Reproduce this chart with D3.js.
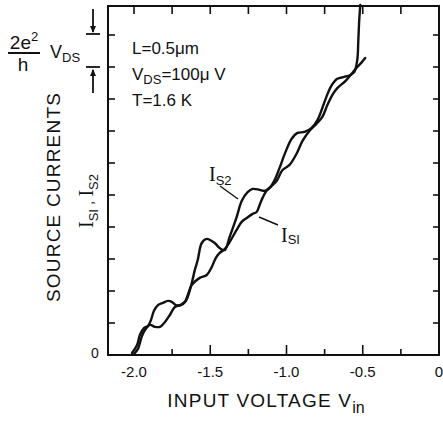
<!DOCTYPE html>
<html><head><meta charset="utf-8">
<script src="https://cdn.jsdelivr.net/npm/d3@7"></script>
<style>body{margin:0;background:#fff}</style>
</head><body><svg id="c" width="443" height="422"></svg>
<script>
// ---- data (x: input voltage V_in, y: source current in units of 2e^2/h V_DS)
const is2X = [-2.013,-1.980,-1.961,-1.935,-1.908,-1.889,-1.869,-1.843,-1.810,-1.778,-1.752,-1.725,-1.693,-1.660,-1.641,-1.621,-1.601,-1.582,-1.556,-1.523,-1.471,-1.438,-1.405,-1.373,-1.327,-1.294,-1.255,-1.222,-1.176,-1.144,-1.111,-1.078,-1.046,-1.007,-0.967,-0.928,-0.882,-0.837,-0.797,-0.765,-0.739,-0.706,-0.667,-0.621,-0.582,-0.556,-0.536,-0.529,-0.523,-0.516];
const is2Y = [0.06,0.31,0.63,0.84,0.91,1.09,1.38,1.56,1.63,1.69,1.66,1.56,1.56,1.69,1.91,2.25,2.66,2.97,3.50,3.63,3.50,3.34,3.28,3.69,4.31,4.81,5.09,5.19,5.16,5.13,5.22,5.47,5.84,6.34,6.75,6.94,6.97,7.09,7.34,7.72,8.06,8.41,8.63,8.69,8.75,8.84,9.22,9.84,10.47,10.94];
const is1X = [-2.000,-1.974,-1.961,-1.948,-1.928,-1.895,-1.863,-1.830,-1.797,-1.765,-1.732,-1.699,-1.667,-1.647,-1.621,-1.569,-1.523,-1.490,-1.464,-1.438,-1.405,-1.373,-1.327,-1.294,-1.261,-1.222,-1.196,-1.176,-1.157,-1.131,-1.098,-1.065,-1.026,-0.980,-0.935,-0.895,-0.850,-0.804,-0.765,-0.732,-0.699,-0.667,-0.614,-0.575,-0.542,-0.510,-0.484];
const is1Y = [0.03,0.19,0.38,0.59,0.78,0.94,0.88,0.88,1.03,1.25,1.50,1.56,1.66,1.88,2.19,2.41,2.50,2.75,3.03,3.19,3.31,3.53,3.91,4.16,4.28,4.41,4.47,4.69,4.91,5.13,5.28,5.44,5.78,5.94,6.28,6.69,7.00,7.22,7.44,7.81,8.13,8.34,8.56,8.78,8.97,9.13,9.28];
const xMinorTicks = [-2.0,-1.75,-1.5,-1.25,-1.0,-0.75,-0.5,-0.25];
const xLabelValues = [-2.0,-1.5,-1.0,-0.5,0];
const xLabelText = ["-2.0","-1.5","-1.0","-0.5","0"];
const yTicks = [1,2,3,4,5,6,7,8,9,10];
const annotations = ["L=0.5\u03BCm","V_DS=100\u03BC V","T=1.6 K"];

// ---- layout
const svg = d3.select("#c");
const L = 108, R = 439, T = 6, B = 355;
const x = d3.scaleLinear().domain([-2 - (134 - L) / 152.5, 0]).range([L, R]);
const y = d3.scaleLinear().domain([0, (B - T) / 32]).range([B, T]);
const font = "'Liberation Sans', Arial, sans-serif";
const serif = "'Liberation Serif', 'Times New Roman', serif";

// frame
svg.append("rect").attr("x", L).attr("y", T).attr("width", R - L).attr("height", B - T)
  .attr("fill", "none").attr("stroke", "#111").attr("stroke-width", 2);

// ticks
const tk = svg.append("g").attr("stroke", "#111").attr("stroke-width", 1.6);
xMinorTicks.forEach(v => {
  const major = Math.abs(v * 2 - Math.round(v * 2)) < 1e-6;
  const len = major ? 10 : 6;
  if (v > -1.99) tk.append("line").attr("x1", x(v)).attr("x2", x(v)).attr("y1", B).attr("y2", B - len);
  tk.append("line").attr("x1", x(v)).attr("x2", x(v)).attr("y1", T).attr("y2", T + 8);
});
yTicks.forEach(v => {
  tk.append("line").attr("x1", L).attr("x2", L + 7).attr("y1", y(v)).attr("y2", y(v));
  tk.append("line").attr("x1", R).attr("x2", R - 6).attr("y1", y(v)).attr("y2", y(v));
});

// x tick labels
svg.append("g").selectAll("text").data(xLabelValues).join("text")
  .attr("x", d => x(d)).attr("y", 377).attr("text-anchor", "middle")
  .attr("font-family", font).attr("font-size", 15).attr("fill", "#111")
  .text((d, i) => xLabelText[i]);
svg.append("text").attr("x", 95).attr("y", y(0) + 3).attr("text-anchor", "middle")
  .attr("font-family", font).attr("font-size", 14).attr("fill", "#111").text("0");

// x axis title
const xt = svg.append("text").attr("x", 266).attr("y", 407).attr("text-anchor", "middle")
  .attr("font-family", font).attr("font-size", 19).attr("letter-spacing", 1.2).attr("fill", "#111");
xt.append("tspan").text("INPUT VOLTAGE V");
xt.append("tspan").attr("font-size", 16).attr("dy", 6).attr("letter-spacing", 0).text("in");

// y axis titles
svg.append("text").attr("transform", "translate(60,197) rotate(-90)").attr("text-anchor", "middle")
  .attr("font-family", font).attr("font-size", 19).attr("letter-spacing", 1.2).attr("fill", "#111")
  .text("SOURCE CURRENTS");
const yt2 = svg.append("text").attr("transform", "translate(93,201) rotate(-90)").attr("text-anchor", "middle")
  .attr("fill", "#111");
yt2.append("tspan").attr("font-family", serif).attr("font-size", 20).text("I");
yt2.append("tspan").attr("font-family", font).attr("font-size", 13).attr("dy", 5).text("SI");
yt2.append("tspan").attr("font-family", font).attr("font-size", 15).attr("dy", -5).text(" , ");
yt2.append("tspan").attr("font-family", serif).attr("font-size", 20).text("I");
yt2.append("tspan").attr("font-family", font).attr("font-size", 13).attr("dy", 5).text("S2");

// scale marker 2e^2/h V_DS
const sm = svg.append("g").attr("fill", "#111").attr("font-family", font);
const f1 = sm.append("text").attr("x", 24).attr("y", 49).attr("text-anchor", "middle").attr("font-size", 19);
f1.append("tspan").text("2e");
f1.append("tspan").attr("font-size", 13).attr("dy", -8).text("2");
sm.append("line").attr("x1", 8).attr("x2", 40).attr("y1", 53).attr("y2", 53).attr("stroke", "#111").attr("stroke-width", 2);
sm.append("text").attr("x", 23).attr("y", 71).attr("text-anchor", "middle").attr("font-size", 19).text("h");
const vd = sm.append("text").attr("x", 50).attr("y", 58).attr("font-size", 18);
vd.append("tspan").text("V");
vd.append("tspan").attr("font-size", 13).attr("dy", 4).text("DS");
const ax = 93;
const ar = svg.append("g").attr("stroke", "#111").attr("stroke-width", 1.8);
ar.append("line").attr("x1", ax).attr("x2", ax).attr("y1", y(10) - 26).attr("y2", y(10) - 3);
ar.append("line").attr("x1", ax - 7).attr("x2", ax + 7).attr("y1", y(10) - 1).attr("y2", y(10) - 1);
ar.append("line").attr("x1", ax).attr("x2", ax).attr("y1", y(9) + 26).attr("y2", y(9) + 3);
ar.append("line").attr("x1", ax - 7).attr("x2", ax + 7).attr("y1", y(9)).attr("y2", y(9));
svg.append("path").attr("d", `M${ax-3},${y(10)-9}L${ax+3},${y(10)-9}L${ax},${y(10)-2}Z`).attr("fill", "#111");
svg.append("path").attr("d", `M${ax-3},${y(9)+9}L${ax+3},${y(9)+9}L${ax},${y(9)+2}Z`).attr("fill", "#111");

// annotations
const an = svg.append("g").attr("font-family", font).attr("font-size", 17).attr("fill", "#111");
an.append("text").attr("x", 132).attr("y", 54).text(annotations[0]);
const a2 = an.append("text").attr("x", 132).attr("y", 80);
a2.append("tspan").text("V");
a2.append("tspan").attr("font-size", 13).attr("dy", 4).text("DS");
a2.append("tspan").attr("dy", -4).text("=100\u03BC V");
an.append("text").attr("x", 132).attr("y", 106).text(annotations[2]);

// curves
const line = d3.line().x(d => x(d[0])).y(d => y(d[1])).curve(d3.curveCatmullRom.alpha(0.5));
const s1 = is1X.map((v, i) => [v, is1Y[i]]);
const s2 = is2X.map((v, i) => [v, is2Y[i]]);
[s1, s2].forEach(s => svg.append("path").attr("d", line(s)).attr("fill", "none")
  .attr("stroke", "#111").attr("stroke-width", 2.4).attr("stroke-linejoin", "round").attr("stroke-linecap", "round"));

// curve labels with leader lines
const lab = svg.append("g").attr("fill", "#111");
const l2 = lab.append("text").attr("x", 209).attr("y", 181);
l2.append("tspan").attr("font-family", serif).attr("font-size", 20).text("I");
l2.append("tspan").attr("font-family", font).attr("font-size", 13).attr("dy", 4).text("S2");
const l1 = lab.append("text").attr("x", 281).attr("y", 242);
l1.append("tspan").attr("font-family", serif).attr("font-size", 20).text("I");
l1.append("tspan").attr("font-family", font).attr("font-size", 13).attr("dy", 2).text("SI");
svg.append("line").attr("x1", 220).attr("y1", 186).attr("x2", 238).attr("y2", 199).attr("stroke", "#111").attr("stroke-width", 1.4);
svg.append("line").attr("x1", 259).attr("y1", 217).attr("x2", 278).attr("y2", 225).attr("stroke", "#111").attr("stroke-width", 1.4);
</script></body></html>
